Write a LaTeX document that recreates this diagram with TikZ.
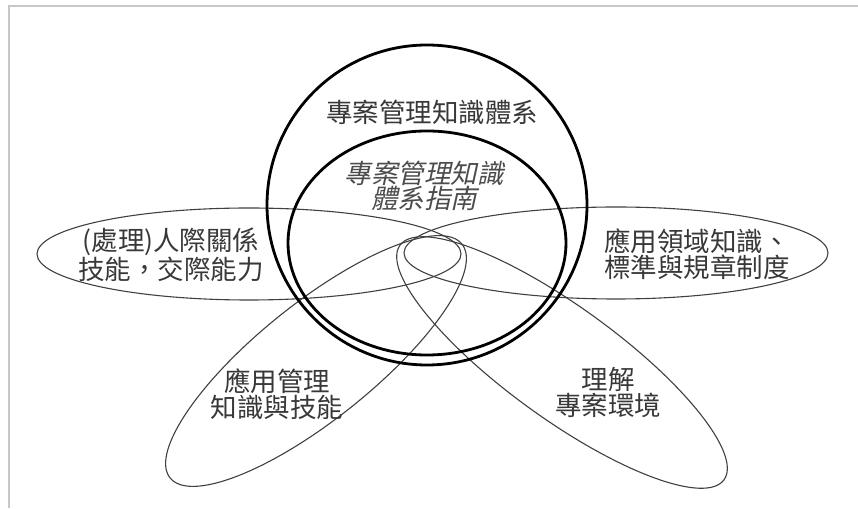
\documentclass[tikz,border=0pt]{standalone}
\usepackage{fontspec}
\newfontfamily\cjk{Noto Sans CJK TC}
\newfontfamily\cjkit[FakeSlant=0.22]{Noto Sans CJK TC}
\begin{document}
\begin{tikzpicture}[x=1pt,y=1pt,
  petal/.style={draw=black!75, line width=1.1pt},
  boldring/.style={draw=black, line width=2.8pt},
  lbl/.style={align=center, inner sep=0pt, text=black!78, font=\cjk\fontsize{26.5}{26}\selectfont},
  lblit/.style={align=center, inner sep=0pt, text=black!70, font=\cjkit\fontsize{26.5}{24}\selectfont},
  framel/.style={draw=black!22, line width=1.6pt}]
\useasboundingbox (0,0) rectangle (858,508);
% frame
\draw[framel] (9,0) -- (9,502) -- (858,502);
% petals
\draw[petal] (249,254) ellipse [x radius=212, y radius=46];
\draw[petal] (616,255) ellipse [x radius=212, y radius=46];
\draw[petal, rotate around={38.7:(316,147)}] (316,147) ellipse [x radius=187, y radius=58];
\draw[petal, rotate around={-35.9:(562,145.5)}] (562,145.5) ellipse [x radius=200, y radius=56];
% bold rings
\draw[boldring] (427,303) ellipse [x radius=160, y radius=160];
\draw[boldring] (427,265) ellipse [x radius=139, y radius=112];
% labels
\node[lbl] (pmbok) at (432,396) {專案管理知識體系};
\node[lblit] (guide) at (424,322) {專案管理知識\\體系指南};
\node[lbl] (inter) at (171,253) {(處理)人際關係\\技能，交際能力};
\node[lbl] (appl) at (697,253.5) {應用領域知識、\\標準與規章制度};
\node[lbl] (genm) at (277,113.5) {應用管理\\知識與技能};
\node[lbl] (envr) at (608,116) {理解\\專案環境};
\end{tikzpicture}
\end{document}
